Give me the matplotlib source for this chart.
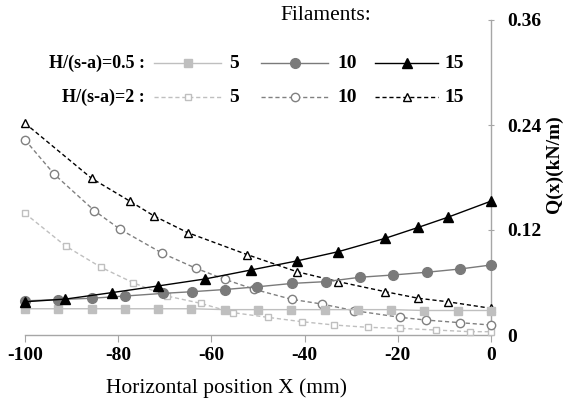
import matplotlib
matplotlib.use("Agg")
import matplotlib.pyplot as plt
from matplotlib.lines import Line2D

plt.rcParams['font.family'] = ['Liberation Serif', 'DejaVu Serif']

# H/(s-a)=0.5 series (solid)
x_a5 = [-100, -92.9, -85.7, -78.6, -71.4, -64.3, -57.1, -50, -42.9, -35.7, -28.6, -21.4, -14.3, -7.1, 0]
y_a5 = [0.030, 0.030, 0.030, 0.030, 0.030, 0.030, 0.029, 0.029, 0.029, 0.029, 0.029, 0.029, 0.028, 0.028, 0.028]
x_a10 = [-100, -92.9, -85.7, -78.6, -70.3, -64.1, -57.1, -50.3, -42.6, -35.4, -28.1, -21, -13.8, -6.7, 0]
y_a10 = [0.039, 0.0405, 0.042, 0.0445, 0.0476, 0.0495, 0.052, 0.055, 0.059, 0.061, 0.066, 0.0686, 0.0717, 0.0754, 0.080]
x_a15 = [-100, -91.4, -81.4, -71.5, -61.4, -51.5, -41.7, -32.8, -22.7, -15.6, -9.3, 0]
y_a15 = [0.038, 0.041, 0.0484, 0.056, 0.064, 0.0743, 0.0846, 0.0952, 0.1105, 0.123, 0.1345, 0.153]

# H/(s-a)=2 series (dashed)
x_b5 = [-100, -91.3, -83.7, -76.8, -69.6, -62.3, -55.3, -47.9, -40.6, -33.6, -26.5, -19.5, -11.9, -4.6, 0]
y_b5 = [0.139, 0.1017, 0.0774, 0.0598, 0.0446, 0.0362, 0.0255, 0.0202, 0.0152, 0.0114, 0.0088, 0.0076, 0.0057, 0.0038, 0.0038]
x_b10 = [-100, -93.7, -85.1, -79.6, -70.5, -63.3, -57.1, -50.8, -42.8, -36.3, -29.3, -19.5, -14, -6.7, 0]
y_b10 = [0.223, 0.1836, 0.142, 0.1208, 0.0933, 0.0762, 0.0636, 0.0522, 0.0408, 0.0354, 0.0278, 0.0202, 0.0171, 0.0141, 0.0114]
x_b15 = [-100, -85.7, -77.5, -72.3, -65.1, -52.4, -41.7, -32.8, -22.7, -15.6, -9.3, 0]
y_b15 = [0.242, 0.179, 0.153, 0.136, 0.117, 0.092, 0.0724, 0.061, 0.0495, 0.042, 0.038, 0.0305]

x_ticks = [-100, -80, -60, -40, -20, 0]
y_ticks = [0, 0.12, 0.24, 0.36]
y_tick_labels = ['0', '0.12', '0.24', '0.36']
filaments = ['5', '10', '15']

light = '#BFBFBF'
mid = '#7A7A7A'
dark = '#000000'
axis_gray = '#A6A6A6'
dash = (3, 2)

# style of each series: (color, marker, filled)
styles_a = [(light, 's', True), (mid, 'o', True), (dark, '^', True)]
styles_b = [(light, 's', False), ('#808080', 'o', False), (dark, '^', False)]
msizes = {'s': 5, 'o': 6, '^': 6}

fig = plt.figure(figsize=(5.68, 4.05), dpi=100)
ax = fig.add_axes([25 / 568, 1 - 335 / 405, (491 - 25) / 568, (335 - 20) / 405])

for (xs, ys), (c, m, f) in zip([(x_b5, y_b5), (x_b10, y_b10), (x_b15, y_b15)], styles_b):
    ax.plot(xs, ys, color=c, lw=1.0, dashes=dash, marker=m, ms=msizes[m],
            mfc='white', mec=c, mew=1.0, clip_on=False, zorder=3)
for (xs, ys), (c, m, f) in zip([(x_a5, y_a5), (x_a10, y_a10), (x_a15, y_a15)], styles_a):
    ax.plot(xs, ys, color=c, lw=1.0, marker=m, ms=msizes[m] + 1,
            mfc=c, mec=c, clip_on=False, zorder=4)

ax.set_xlim(-100, 0)
ax.set_ylim(0, 0.36)
for s in ['left', 'top']:
    ax.spines[s].set_visible(False)
for s in ['right', 'bottom']:
    ax.spines[s].set_color(axis_gray)
    ax.spines[s].set_linewidth(1.0)

ax.yaxis.tick_right()
ax.yaxis.set_label_position('right')
ax.set_xticks(x_ticks)
ax.set_xticklabels([str(v) for v in x_ticks], fontweight='bold', fontsize=14)
ax.set_yticks(y_ticks)
ax.set_yticklabels(y_tick_labels, fontweight='bold', fontsize=14)
ax.tick_params(axis='x', direction='out', length=5, color=axis_gray, pad=4)
ax.tick_params(axis='y', direction='inout', length=5, color=axis_gray, pad=9)

ax.set_xlabel('Horizontal position X (mm)', fontsize=15.5)
ax.xaxis.set_label_coords((226 - 25) / 466, (335 - 388) / 315)
ax.xaxis.label.set_va('center')
ax.set_ylabel('Q(x)(kN/m)', fontweight='bold', fontsize=14, rotation=90)
ax.yaxis.set_label_coords((554 - 25) / 466, (335 - 164) / 315)
ax.yaxis.label.set_va('center')

# legend drawn by hand in figure pixels
def fx(px):
    return px / 568

def fy(py):
    return 1 - py / 405

fig.text(fx(326), fy(16), 'Filaments:', ha='center', va='center', fontsize=15.5)
rows = [(63, 'H/(s-a)=0.5 :', styles_a, None), (97, 'H/(s-a)=2 :', styles_b, dash)]
seg_x = [(154, 221, 229), (261, 328, 337), (375, 438, 444)]
for py, lab, styles, ls in rows:
    fig.text(fx(145), fy(py), lab, ha='right', va='center', fontsize=13, fontweight='bold')
    for (x0, x1, tx), (c, m, f), name in zip(seg_x, styles, filaments):
        kw = dict(color=c, lw=1.0, transform=fig.transFigure)
        if ls:
            kw['dashes'] = ls
        fig.add_artist(Line2D([fx(x0), fx(x1)], [fy(py), fy(py)], **kw))
        fig.add_artist(Line2D([fx((x0 + x1) / 2)], [fy(py)], marker=m,
                              ms=msizes[m] + (1 if f else 0), mfc=c if f else 'white',
                              mec=c, mew=1.0, ls='none', transform=fig.transFigure))
        fig.text(fx(tx), fy(py), name, ha='left', va='center', fontsize=14, fontweight='bold')

fig.savefig('out.png', dpi=100)
